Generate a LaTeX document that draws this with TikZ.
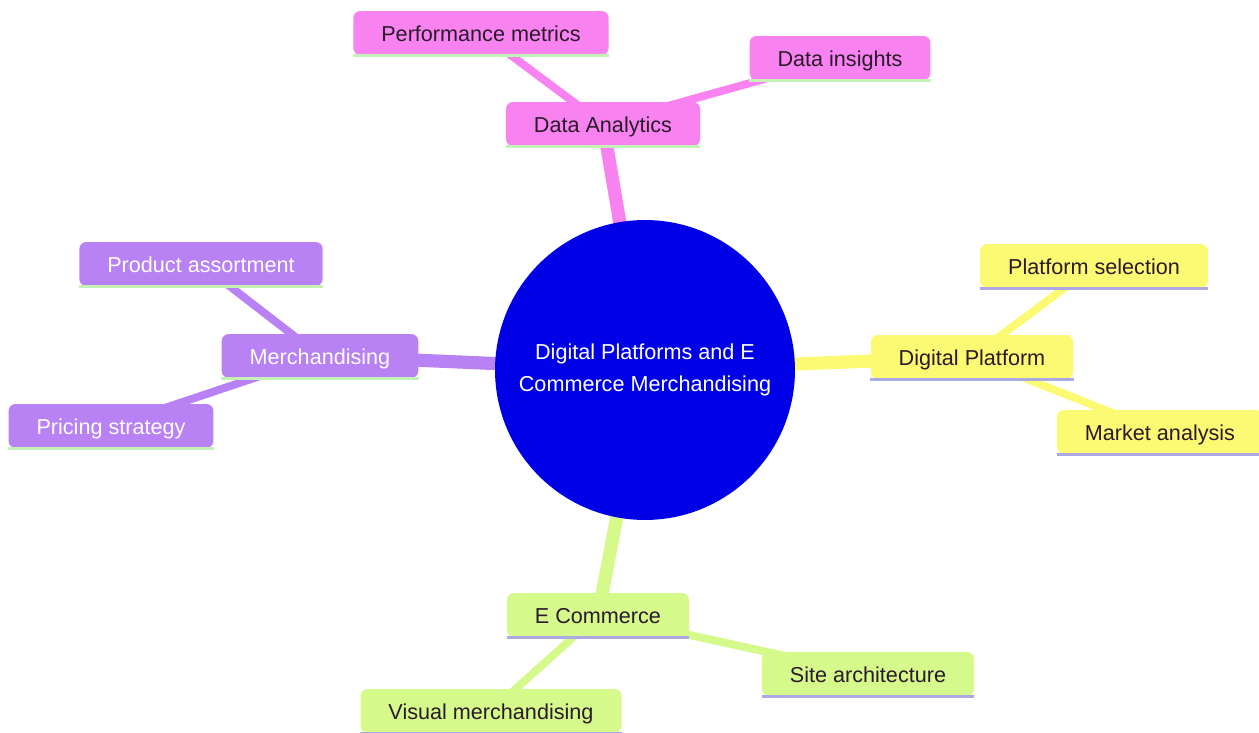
\documentclass[tikz,border=0pt]{standalone}
\usepackage{fontspec}
\setmainfont{Liberation Sans}
\usepackage{xcolor}
\usetikzlibrary{backgrounds}
\definecolor{rootblue}{HTML}{0000E6}
\definecolor{dapink}{HTML}{F883F0}
\definecolor{mpurple}{HTML}{B881F4}
\definecolor{dpyellow}{HTML}{FBFA72}
\definecolor{ecgreen}{HTML}{D5F98B}
\definecolor{linegreen}{HTML}{C4F2B6}
\definecolor{linelav}{HTML}{ABA8E4}
\definecolor{darktext}{HTML}{2A1A2A}
\tikzstyle{root} = [circle, fill=rootblue, minimum size=6cm, inner sep=0pt, text=white, font=\fontsize{12.3}{18}\selectfont]
\tikzset{topic/.style 2 args={rectangle, rounded corners=4pt, fill=#1, inner xsep=0.56cm, minimum height=0.88cm,
  text height=10.4pt, text depth=0.6pt, text=darktext, font=\fontsize{12.3}{15}\selectfont,
  append after command={(\tikzlastnode.south west) edge[draw=#2, line width=1.8pt] (\tikzlastnode.south east)}}}
\tikzstyle{trunk} = [line width=7.5pt]
\tikzstyle{twig} = [line width=4.5pt]

\begin{document}
\begin{tikzpicture}[x=0.02cm, y=-0.02cm]
\useasboundingbox (0,0) rectangle (1259,733);

% Root
\node (root) [root] at (645,370) {\raisebox{-1.2pt}{\parbox{5.6cm}{\centering Digital Platforms and E\\Commerce Merchandising}}};

% Data Analytics
\node (analytics) [topic={dapink}{linegreen}] at (603,124) {Data Analytics};
\node (metrics) [topic={dapink}{linegreen}] at (481,33) {Performance metrics};
\node (insights) [topic={dapink}{linegreen}] at (840,58) {Data insights};

% Merchandising
\node (merch) [topic={mpurple}{linegreen}, text=white] at (320,356) {Merchandising};
\node (assort) [topic={mpurple}{linegreen}, text=white] at (201,264) {Product assortment};
\node (pricing) [topic={mpurple}{linegreen}, text=white] at (111,426) {Pricing strategy};

% Digital Platform
\node (platform) [topic={dpyellow}{linelav}] at (972,357) {Digital Platform};
\node (selection) [topic={dpyellow}{linelav}] at (1094,266) {Platform selection};
\node (market) [topic={dpyellow}{linelav}] at (1160,432) {Market analysis};

% E Commerce
\node (ecom) [topic={ecgreen}{linelav}] at (598,615) {E Commerce};
\node (site) [topic={ecgreen}{linelav}] at (868,674) {Site architecture};
\node (visual) [topic={ecgreen}{linelav}] at (491,711) {Visual merchandising};

% Connections
\begin{scope}[on background layer]
\draw [trunk, dapink] (root.center) -- (analytics.center);
\draw [trunk, mpurple] (root.center) -- (merch.center);
\draw [trunk, dpyellow] (root.center) -- (platform.center);
\draw [trunk, ecgreen] (root.center) -- (ecom.center);

\draw [twig, dapink] (analytics.center) -- (metrics.center);
\draw [twig, dapink] (analytics.center) -- (insights.center);
\draw [twig, mpurple] (merch.center) -- (assort.center);
\draw [twig, mpurple] (merch.center) -- (pricing.center);
\draw [twig, dpyellow] (platform.center) -- (selection.center);
\draw [twig, dpyellow] (platform.center) -- (market.center);
\draw [twig, ecgreen] (ecom.center) -- (site.center);
\draw [twig, ecgreen] (ecom.center) -- (visual.center);
\end{scope}

\end{tikzpicture}
\end{document}
